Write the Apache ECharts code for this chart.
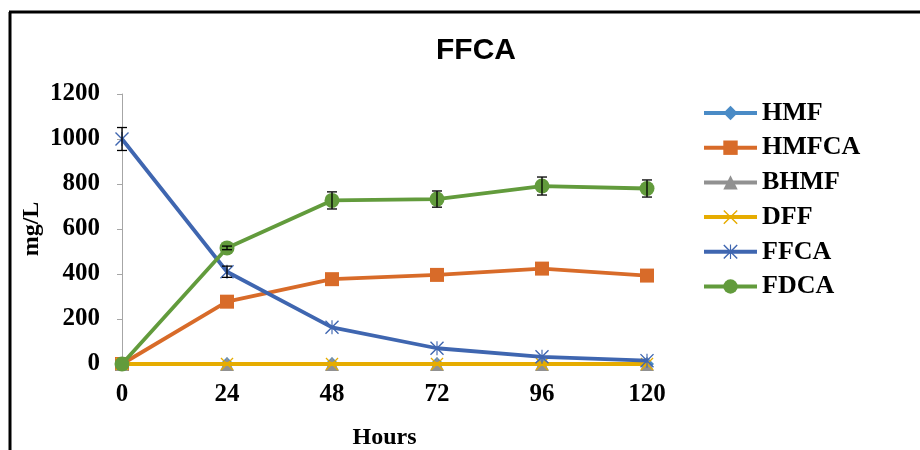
<!DOCTYPE html>
<html>
<head>
<meta charset="utf-8">
<script src="https://cdn.jsdelivr.net/npm/echarts@6/dist/echarts.min.js"></script>
<style>html,body{margin:0;padding:0;background:#fff;}#c{width:920px;height:450px;}</style>
</head>
<body>
<div id="c"></div>
<script>
const hours = ['0', '24', '48', '72', '96', '120'];
const yTicks = [0, 200, 400, 600, 800, 1000, 1200];
const hmf   = [0, 0, 0, 0, 0, 0];
const hmfca = [0, 277, 377, 396, 424, 393];
const bhmf  = [0, 0, 0, 0, 0, 0];
const dff   = [0, 0, 0, 0, 0, 0];
const ffca  = [1000, 410, 163, 70, 32, 15];
const fdca  = [0, 516, 727, 733, 791, 780];
const ffcaErr = [51, 25, 0, 0, 0, 0];
const fdcaErr = [0, 8, 38, 36, 40, 38];

const serif = '"Liberation Serif","Times New Roman",serif';
const colors = {
  HMF: '#4A8BC6', HMFCA: '#D86B29', BHMF: '#919191', DFF: '#E6AC00', FFCA: '#3F66B0', FDCA: '#629B3C'
};
const xPath = 'path://M0,0.7 L0.7,0 L10,9.3 L9.3,10 Z M9.3,0 L10,0.7 L0.7,10 L0,9.3 Z';
const starPath = 'path://M0,0.7 L0.7,0 L10,9.3 L9.3,10 Z M9.3,0 L10,0.7 L0.7,10 L0,9.3 Z M4.6,0 L5.4,0 L5.4,10 L4.6,10 Z';

function lineSeries(name, data, symbol, size, z) {
  return {
    name: name, type: 'line', data: data, symbol: symbol, symbolSize: size,
    showSymbol: true, z: z,
    itemStyle: { color: colors[name] },
    lineStyle: { color: colors[name], width: 3.8 },
    emphasis: { disabled: true }
  };
}

function errSeries(vals, errs) {
  const d = vals.map((v, i) => [i, v, errs[i]]);
  return {
    type: 'custom', z: 20, silent: true,
    data: d,
    renderItem: function (params, api) {
      const i = api.value(0), v = api.value(1), e = api.value(2);
      if (!e) return null;
      const hi = api.coord([i, v + e]);
      const lo = api.coord([i, v - e]);
      const w = 5;
      const st = { stroke: '#000', lineWidth: 1.3 };
      return {
        type: 'group',
        children: [
          { type: 'line', shape: { x1: hi[0], y1: hi[1], x2: lo[0], y2: lo[1] }, style: st },
          { type: 'line', shape: { x1: hi[0] - w, y1: hi[1], x2: hi[0] + w, y2: hi[1] }, style: st },
          { type: 'line', shape: { x1: lo[0] - w, y1: lo[1], x2: lo[0] + w, y2: lo[1] }, style: st }
        ]
      };
    }
  };
}

const chart = echarts.init(document.getElementById('c'), null, { renderer: 'canvas' });
chart.setOption({
  animation: false,
  backgroundColor: '#fff',
  title: {
    text: 'FFCA', left: 471, textAlign: 'center', top: 31,
    textStyle: { fontFamily: '"Liberation Sans",Arial,sans-serif', fontWeight: 'bold', fontSize: 30, color: '#000' }
  },
  legend: {
    orient: 'vertical', left: 702, top: 100, padding: 0,
    itemWidth: 53, itemHeight: 18, itemGap: 8.7,
    data: ['HMF', 'HMFCA', 'BHMF', 'DFF', 'FFCA', 'FDCA'],
    lineStyle: { width: 4 },
    textStyle: { fontFamily: serif, fontWeight: 'bold', fontSize: 26, lineHeight: 26, color: '#000' }
  },
  grid: { left: 122, right: 273, top: 94, bottom: 86, containLabel: false, outerBoundsMode: 'none' },
  xAxis: {
    type: 'category', data: hours, boundaryGap: false,
    name: 'Hours', nameLocation: 'middle', nameGap: 62, nameMoveOverlap: false,
    nameTextStyle: { fontFamily: serif, fontWeight: 'bold', fontSize: 24, color: '#000' },
    axisLine: { show: true, lineStyle: { color: '#A6A6A6', width: 1 } },
    axisTick: { show: false },
    axisLabel: { fontFamily: serif, fontWeight: 'bold', fontSize: 25, color: '#000', margin: 18 },
    splitLine: { show: false }
  },
  yAxis: {
    type: 'value', min: yTicks[0], max: yTicks[yTicks.length - 1], interval: 200,
    name: 'mg/L', nameLocation: 'middle', nameGap: 78, nameRotate: 90, nameMoveOverlap: false,
    nameTextStyle: { fontFamily: serif, fontWeight: 'bold', fontSize: 24, color: '#000' },
    axisLine: { show: true, lineStyle: { color: '#A6A6A6', width: 1 } },
    axisTick: { show: true, inside: false, length: 5, lineStyle: { color: '#A6A6A6' } },
    axisLabel: { fontFamily: serif, fontWeight: 'bold', fontSize: 25, color: '#000', margin: 22,
      formatter: function (v) { return String(v); } },
    splitLine: { show: false }
  },
  graphic: [
    { type: 'line', shape: { x1: 10, y1: 12, x2: 10, y2: 450 }, style: { stroke: '#000', lineWidth: 3 }, z: 100 },
    { type: 'line', shape: { x1: 9, y1: 12, x2: 920, y2: 12 }, style: { stroke: '#000', lineWidth: 3 }, z: 100 }
  ],
  series: [
    lineSeries('HMF', hmf, 'diamond', 14, 2),
    lineSeries('HMFCA', hmfca, 'rect', 14, 3),
    lineSeries('BHMF', bhmf, 'triangle', 14, 4),
    lineSeries('DFF', dff, xPath, 13, 5),
    lineSeries('FFCA', ffca, starPath, 14, 6),
    lineSeries('FDCA', fdca, 'circle', 15, 7),
    errSeries(ffca, ffcaErr),
    errSeries(fdca, fdcaErr)
  ]
});
</script>
</body>
</html>
